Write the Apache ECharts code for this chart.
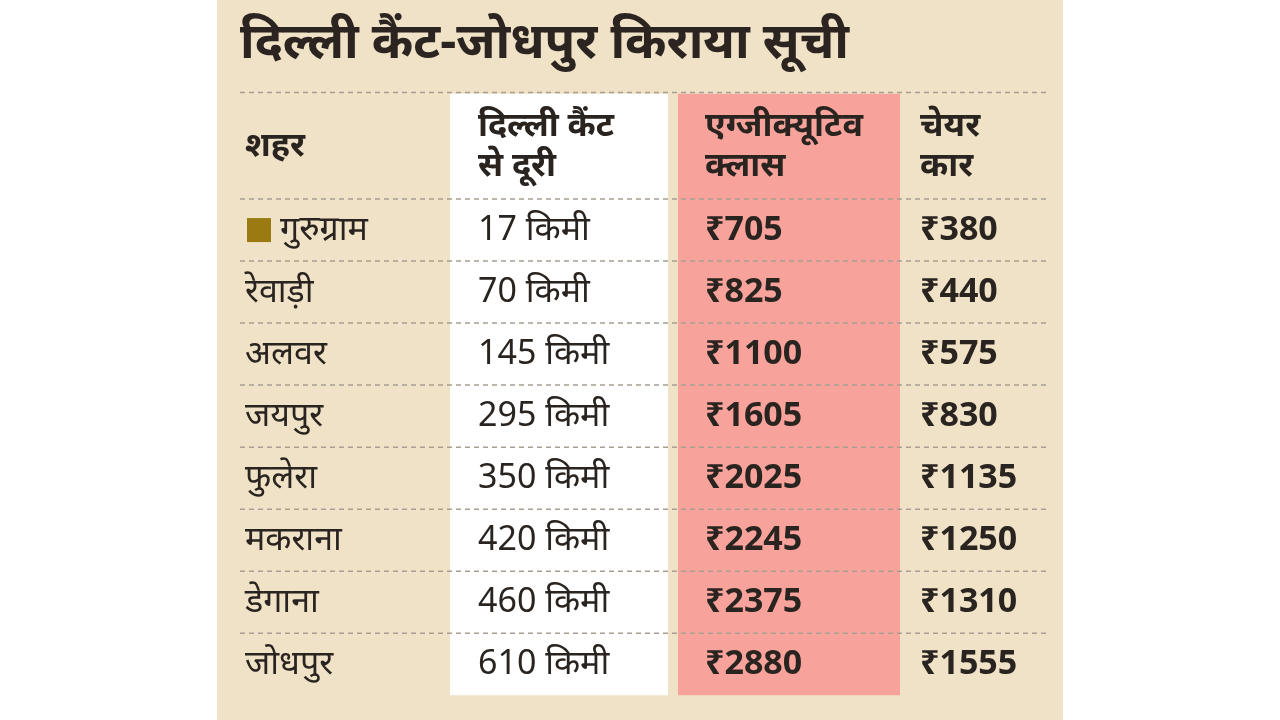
<!DOCTYPE html>
<html>
<head>
<meta charset="utf-8">
<script src="https://cdn.jsdelivr.net/npm/echarts@6/dist/echarts.min.js"></script>
<style>
  html, body { margin: 0; padding: 0; background: #fff; }
  #chart { width: 1280px; height: 720px; }
</style>
</head>
<body>
<div id="chart"></div>
<script>
const title = "दिल्ली कैंट-जोधपुर किराया सूची";
const headers = ["शहर", "दिल्ली कैंट\nसे दूरी", "एग्जीक्यूटिव\nक्लास", "चेयर\nकार"];
const cities = ["गुरुग्राम", "रेवाड़ी", "अलवर", "जयपुर", "फुलेरा", "मकराना", "डेगाना", "जोधपुर"];
const distances = ["17 किमी", "70 किमी", "145 किमी", "295 किमी", "350 किमी", "420 किमी", "460 किमी", "610 किमी"];
const executiveFare = [705, 825, 1100, 1605, 2025, 2245, 2375, 2880];
const chairFare = [380, 440, 575, 830, 1135, 1250, 1310, 1555];

// layout: text start x for each column, column band edges
const colX = [245, 478, 705, 920];
const font = "'Noto Sans', 'DejaVu Sans', sans-serif";
const ink = "#2a2420";

const chart = echarts.init(document.getElementById("chart"), null, { renderer: "canvas" });

function renderBg(params, api) {
    const top = api.coord([0, -2.2])[1];
    const bot = api.coord([0, 7.5])[1];
    const children = [
        { type: "rect", shape: { x: 217, y: 0, width: 846, height: 720 }, style: { fill: "#efe2c6" } },
        { type: "rect", shape: { x: 450, y: top, width: 218, height: bot - top }, style: { fill: "#ffffff" } },
        { type: "rect", shape: { x: 678, y: top, width: 222, height: bot - top }, style: { fill: "#f7a39c" } }
    ];
    const lines = [-2.22, -0.5, 0.5, 1.5, 2.5, 3.5, 4.5, 5.5, 6.5];
    lines.forEach(v => {
        const y = api.coord([0, v])[1];
        children.push({
            type: "line", shape: { x1: 240, y1: y, x2: 1050, y2: y },
            style: { stroke: "#a89f92", lineWidth: 1.5, lineDash: [5, 4] }
        });
    });
    headers.forEach((h, i) => {
        const y = api.coord([0, -1.35])[1];
        children.push({
            type: "text",
            style: {
                text: h, x: colX[i], y: y, verticalAlign: "middle",
                font: "bold 34px " + font, fill: ink, lineHeight: 40
            }
        });
    });
    children.push({
        type: "text",
        style: {
            text: title, x: 240, y: api.coord([0, -3.0])[1], verticalAlign: "middle",
            font: "bold 50px " + font, fill: "#2b2420"
        }
    });
    return { type: "group", children };
}

function renderRow(params, api) {
    const i = api.value(0);
    const y = api.coord([0, i])[1];
    const children = [];
    let cx = colX[0];
    if (i === 0) {
        children.push({ type: "rect", shape: { x: 247, y: y - 12, width: 24, height: 24 }, style: { fill: "#9b7a12" } });
        cx = 280;
    }
    const cells = [
        [cx, cities[i], "normal"],
        [colX[1], distances[i], "normal"],
        [colX[2], "₹" + executiveFare[i], "bold"],
        [colX[3], "₹" + chairFare[i], "bold"]
    ];
    cells.forEach(c => {
        children.push({
            type: "text",
            style: { text: c[1], x: c[0], y: y, verticalAlign: "middle", font: c[2] + " 34px " + font, fill: ink }
        });
    });
    return { type: "group", children };
}

chart.setOption({
    animation: false,
    grid: { left: 0, right: 0, top: 0, bottom: 0 },
    xAxis: { type: "value", min: 0, max: 1280, show: false },
    yAxis: { type: "value", inverse: true, min: -3.71, max: 7.9, show: false },
    series: [
        { type: "custom", renderItem: renderBg, data: [[0, 0]], silent: true },
        { type: "custom", renderItem: renderRow, data: cities.map((c, i) => [i, i]), silent: true }
    ]
});
</script>
</body>
</html>
